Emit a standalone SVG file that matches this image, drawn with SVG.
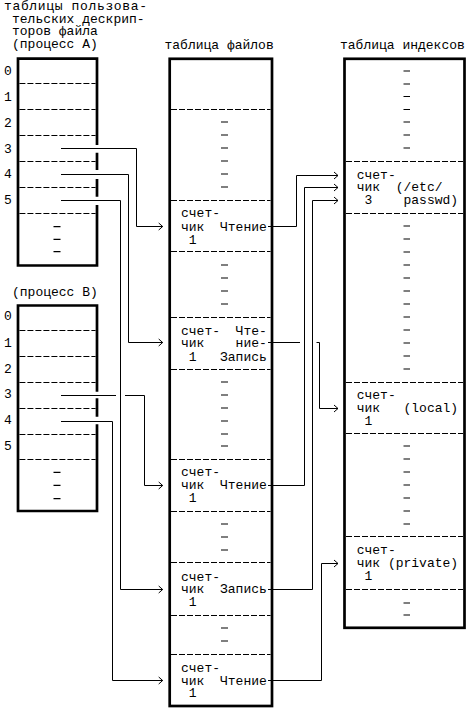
<svg xmlns="http://www.w3.org/2000/svg" width="468" height="712" viewBox="0 0 468 712">
<style>
text{font-family:"Liberation Mono","DejaVu Sans Mono",monospace;font-size:13px;fill:#000}
.box{fill:none;stroke:#000;stroke-width:2.7;stroke-linejoin:miter}
.sep{fill:none;stroke:#000;stroke-width:1;stroke-dasharray:6 2}
.tick{fill:none;stroke:#000;stroke-width:1.2}
.conn{fill:none;stroke:#000;stroke-width:1}
.arr{fill:none;stroke:#000;stroke-width:1;marker-end:url(#ah)}
</style>
<defs>
<marker id="ah" markerUnits="userSpaceOnUse" markerWidth="8" markerHeight="10" refX="6" refY="5" orient="auto">
<path d="M2,1.5 L6,5 L2,8.5" fill="none" stroke="#000" stroke-width="1"/>
</marker>
</defs>
<rect x="0" y="0" width="468" height="712" fill="#fff"/>

<g id="procA">
<text x="4" y="10" textLength="143" lengthAdjust="spacing">таблицы пользова-</text>
<text x="12" y="22.7">тельских дескрип-</text>
<text x="12" y="35.3">торов файла</text>
<text x="12" y="48">(процесс A)</text>
<path class="box" d="M97,145 V58.7 H18 V265.5 H97 V205 M97,196.7 V179 M97,170 V152.7"/>
<path class="sep" d="M19.4,83.5H95.6 M19.4,109.5H95.6 M19.4,135.5H95.6 M19.4,161.5H95.6 M19.4,187.5H95.6 M19.4,213.5H95.6"/>
<path class="tick" d="M53.5,226.7h7 M53.5,239.3h7 M53.5,251.7h7"/>
<text x="4" y="75">0</text>
<text x="4" y="101">1</text>
<text x="4" y="127">2</text>
<text x="4" y="152.5">3</text>
<text x="4" y="178.3">4</text>
<text x="4" y="204.3">5</text>
</g>

<g id="procB">
<text x="12" y="296">(процесс B)</text>
<path class="box" d="M97,391.7 V305.5 H18 V511 H97 V424.3 M97,416.7 V398.3"/>
<path class="sep" d="M19.4,330.5H95.6 M19.4,356.5H95.6 M19.4,382.5H95.6 M19.4,408.5H95.6 M19.4,434.5H95.6 M19.4,459.5H95.6"/>
<path class="tick" d="M53.5,472.3h7 M53.5,485.3h7 M53.5,498.7h7"/>
<text x="4" y="320">0</text>
<text x="4" y="346.5">1</text>
<text x="4" y="372.5">2</text>
<text x="4" y="398.3">3</text>
<text x="4" y="424">4</text>
<text x="4" y="450">5</text>
</g>

<g id="fileTable">
<text x="164.5" y="48.5">таблица файлов</text>
<rect class="box" x="169.7" y="58.8" width="102.3" height="647.2"/>
<path class="sep" d="M171,109.5H270.6 M171,200.5H270.6 M171,251.5H270.6 M171,317.5H270.6 M171,369.5H270.6 M171,459.5H270.6 M171,511.5H270.6 M171,562.5H270.6 M171,615.5H270.6 M171,654.5H270.6"/>
<path class="tick" d="M221,122h7 M221,135h7 M221,148h7 M221,161h7 M221,174h7 M221,187h7 M221,265h7 M221,278h7 M221,291h7 M221,304h7 M221,382h7 M221,395h7 M221,408h7 M221,421h7 M221,434h7 M221,446h7 M221,524h7 M221,537h7 M221,550h7 M221,628h7 M221,641h7"/>
<text x="181" y="216.7">счет-</text>
<text x="181" y="230.7">чик</text>
<text x="220" y="230.7">Чтение</text>
<text x="188.8" y="244">1</text>

<text x="181" y="335">счет-</text>
<text x="235.6" y="335">Чте-</text>
<text x="181" y="347">чик</text>
<text x="235.6" y="347">ние-</text>
<text x="188.8" y="360.7">1</text>
<text x="220" y="360.7">Запись</text>

<text x="181" y="476">счет-</text>
<text x="181" y="489">чик</text>
<text x="220" y="489">Чтение</text>
<text x="188.8" y="502">1</text>

<text x="181" y="580.7">счет-</text>
<text x="181" y="593">чик</text>
<text x="220" y="593">Запись</text>
<text x="188.8" y="606">1</text>

<text x="181" y="672">счет-</text>
<text x="181" y="684.5">чик</text>
<text x="220" y="684.5">Чтение</text>
<text x="188.8" y="697">1</text>
</g>

<g id="inodeTable">
<text x="340" y="48.5">таблица индексов</text>
<rect class="box" x="344.5" y="58.8" width="120" height="569"/>
<path class="sep" d="M346,161.5H463 M346,213.5H463 M346,382.5H463 M346,433.5H463 M346,536.5H463 M346,589.5H463"/>
<path class="tick" d="M403.5,71h6.5 M403.5,84h6.5 M403.5,96.5h6.5 M403.5,109.5h6.5 M403.5,122h6.5 M403.5,135h6.5 M403.5,148h6.5 M403.5,226h6.5 M403.5,239h6.5 M403.5,252h6.5 M403.5,265h6.5 M403.5,278h6.5 M403.5,291h6.5 M403.5,304h6.5 M403.5,317h6.5 M403.5,330h6.5 M403.5,343h6.5 M403.5,356h6.5 M403.5,369h6.5 M403.5,446h6.5 M403.5,459h6.5 M403.5,472h6.5 M403.5,485h6.5 M403.5,498h6.5 M403.5,511h6.5 M403.5,524h6.5 M403.5,603h6.5 M403.5,615h6.5"/>
<text x="356.7" y="179">счет-</text>
<text x="356.7" y="191">чик</text>
<text x="395.7" y="191">(/etc/</text>
<text x="364.5" y="204">3</text>
<text x="403.5" y="204">passwd)</text>

<text x="356.7" y="399">счет-</text>
<text x="356.7" y="412">чик</text>
<text x="403.5" y="412">(local)</text>
<text x="364.5" y="425">1</text>

<text x="356.7" y="554">счет-</text>
<text x="356.7" y="567">чик</text>
<text x="387.9" y="567">(private)</text>
<text x="364.5" y="580">1</text>
</g>

<g id="connectors">
<path class="arr" d="M61,148.5H136.5V226.5H162.7"/>
<path class="arr" d="M61,174.5H128.5V342.5H162.7"/>
<path class="arr" d="M61,200.5H120.5V589.5H162.7"/>
<path class="conn" d="M61,395.5H116"/>
<path class="arr" d="M125,395.5H144.5V485.5H162.7"/>
<path class="arr" d="M61,421.5H112.5V680.5H162.7"/>
<path class="arr" d="M268,226.5H296.5V175.5H338"/>
<path class="arr" d="M268,485.5H304.5V187.5H338"/>
<path class="arr" d="M268,589.5H312.5V200.5H338"/>
<path class="conn" d="M268,342.5H300"/>
<path class="arr" d="M316.5,342.5H319.5V408.5H338"/>
<path class="arr" d="M268,680.5H321.5V563.5H338"/>
</g>
</svg>
